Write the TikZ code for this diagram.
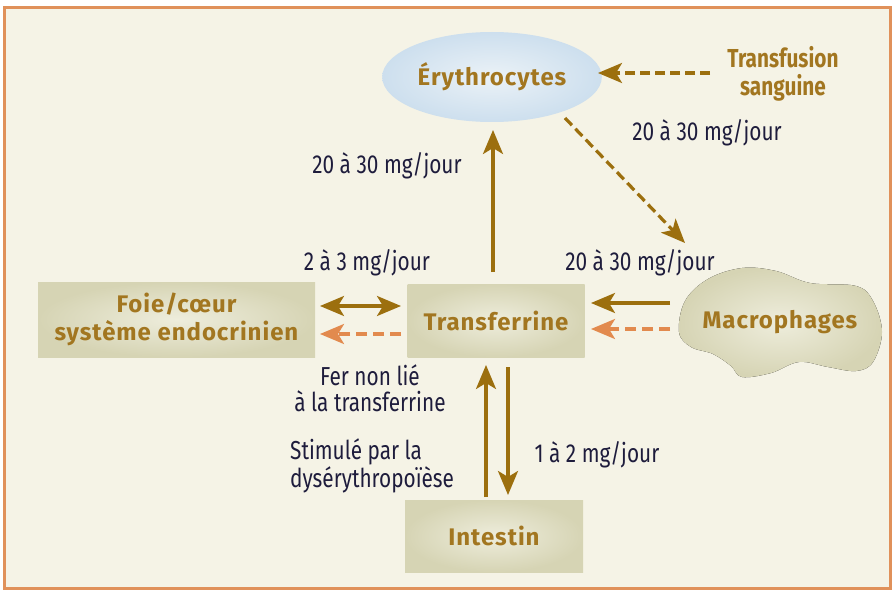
\documentclass[tikz,border=0pt]{standalone}
\usepackage{fontspec}
\setmainfont{Fira Sans}
\newfontfamily\labfont[FakeStretch=0.8]{Fira Sans}
\newfontfamily\ttlfont[LetterSpace=4]{Fira Sans}
\usetikzlibrary{arrows.meta,shapes.geometric,calc}
\definecolor{bg}{HTML}{F5F3E6}
\definecolor{framec}{HTML}{E0915A}
\definecolor{brn}{HTML}{9C6F0E}
\definecolor{txtbrn}{HTML}{A27620}
\definecolor{orng}{HTML}{E28A4E}
\definecolor{navy}{HTML}{1E1C3C}
\definecolor{boxf}{HTML}{D6D4B4}
\definecolor{boxc}{HTML}{EEEDDC}
\definecolor{ellf}{HTML}{CDDFEE}
\definecolor{ellc}{HTML}{EBF2F7}
\tikzset{
  ttl/.style={font=\ttlfont\fontsize{24}{28}\selectfont\bfseries, text=txtbrn, align=center},
  boxnode/.style={ttl, rectangle, inner color=boxc, outer color=boxf, draw=none},
  lab/.style={font=\labfont\fontsize{26}{26}\selectfont, text=navy, inner sep=0},
  arr/.style={draw=brn, line width=3.2pt, -{Stealth[length=24pt,width=20pt,inset=6pt]}},
  darr/.style={arr, dash pattern=on 10pt off 5pt},
  oarr/.style={draw=orng, line width=3.2pt, dash pattern=on 11pt off 6pt, -{Stealth[length=24pt,width=20pt,inset=6pt]}},
}
\begin{document}
\begin{tikzpicture}[x=1pt,y=-1pt]
\useasboundingbox (0,0) rectangle (895,591);
\fill[bg] (4,8) rectangle (890,588);
\draw[framec, line width=3pt] (4,8) rectangle (890,588);

% nodes
\node[ttl, ellipse, inner color=ellc, outer color=ellf, minimum width=212pt, minimum height=90pt] (ery) at (492,77) {Érythrocytes};
\node[text=txtbrn, align=center, font=\labfont\fontsize{26}{28}\selectfont\bfseries] (transf) at (783,74) {Transfusion\\sanguine};
\node[boxnode, minimum width=277pt, minimum height=75pt] (foie) at (176.5,319.5) {Foie/cœur\\système endocrinien};
\node[boxnode, minimum width=177pt, minimum height=73pt] (tr) at (496,320.5) {Transferrine};
\node[boxnode, minimum width=178pt, minimum height=72pt] (int) at (494,536) {Intestin};
\fill[inner color=boxc, outer color=boxf, shading=radial]
  plot[smooth cycle, tension=0.6] coordinates{(685,301) (708,279) (742,268) (776,271) (810,283) (856,286) (873,301) (882,332) (873,362) (856,371) (828,367) (799,362) (771,373) (742,377) (731,366) (713,354) (691,347) (679,332)};
\node[ttl] (mac) at (780,322) {Macrophages};

% helper coordinates
\coordinate (trTop) at (493,272);
\coordinate (eryBot) at (493,130);
\coordinate (eryD1) at (565,118);
\coordinate (macTop) at (685,243);
\coordinate (tfL) at (710,73);
\coordinate (eryR) at (598,73);
\coordinate (fR1) at (320,306);
\coordinate (tL1) at (401,306);
\coordinate (fR2) at (320,334);
\coordinate (tL2) at (401,334);
\coordinate (mL1) at (670,303);
\coordinate (tR1) at (591,303);
\coordinate (mL2) at (670,329);
\coordinate (tR2) at (591,329);
\coordinate (iU1) at (486,497);
\coordinate (tB1) at (486,365);
\coordinate (tB2) at (508,367);
\coordinate (iU2) at (508,495);

% connectors
\draw[arr] (trTop) -- (eryBot);
\draw[darr] (eryD1) -- (macTop);
\draw[darr] (tfL) -- (eryR);
\draw[draw=brn, line width=3.2pt, {Stealth[length=24pt,width=20pt,inset=6pt]}-{Stealth[length=24pt,width=20pt,inset=6pt]}] (fR1) -- (tL1);
\draw[oarr] (tL2) -- (fR2);
\draw[arr] (mL1) -- (tR1);
\draw[oarr] (mL2) -- (tR2);
\draw[arr] (iU1) -- (tB1);
\draw[arr] (tB2) -- (iU2);

% labels
\node[lab] (l1) at (387,166) {20 à 30 mg/jour};
\node[lab] (l2) at (707,133) {20 à 30 mg/jour};
\node[lab] (l3) at (640,263) {20 à 30 mg/jour};
\node[lab] (l4) at (367,263) {2 à 3 mg/jour};
\node[lab, align=center] (l5) at (370,388) {Fer non lié\\à la transferrine};
\node[lab, align=left, anchor=west, font=\labfont\fontsize{26}{28}\selectfont] (l6) at (290,466) {Stimulé par la\\dysérythropoïèse};
\node[lab] (l7) at (597,455) {1 à 2 mg/jour};
\end{tikzpicture}
\end{document}
